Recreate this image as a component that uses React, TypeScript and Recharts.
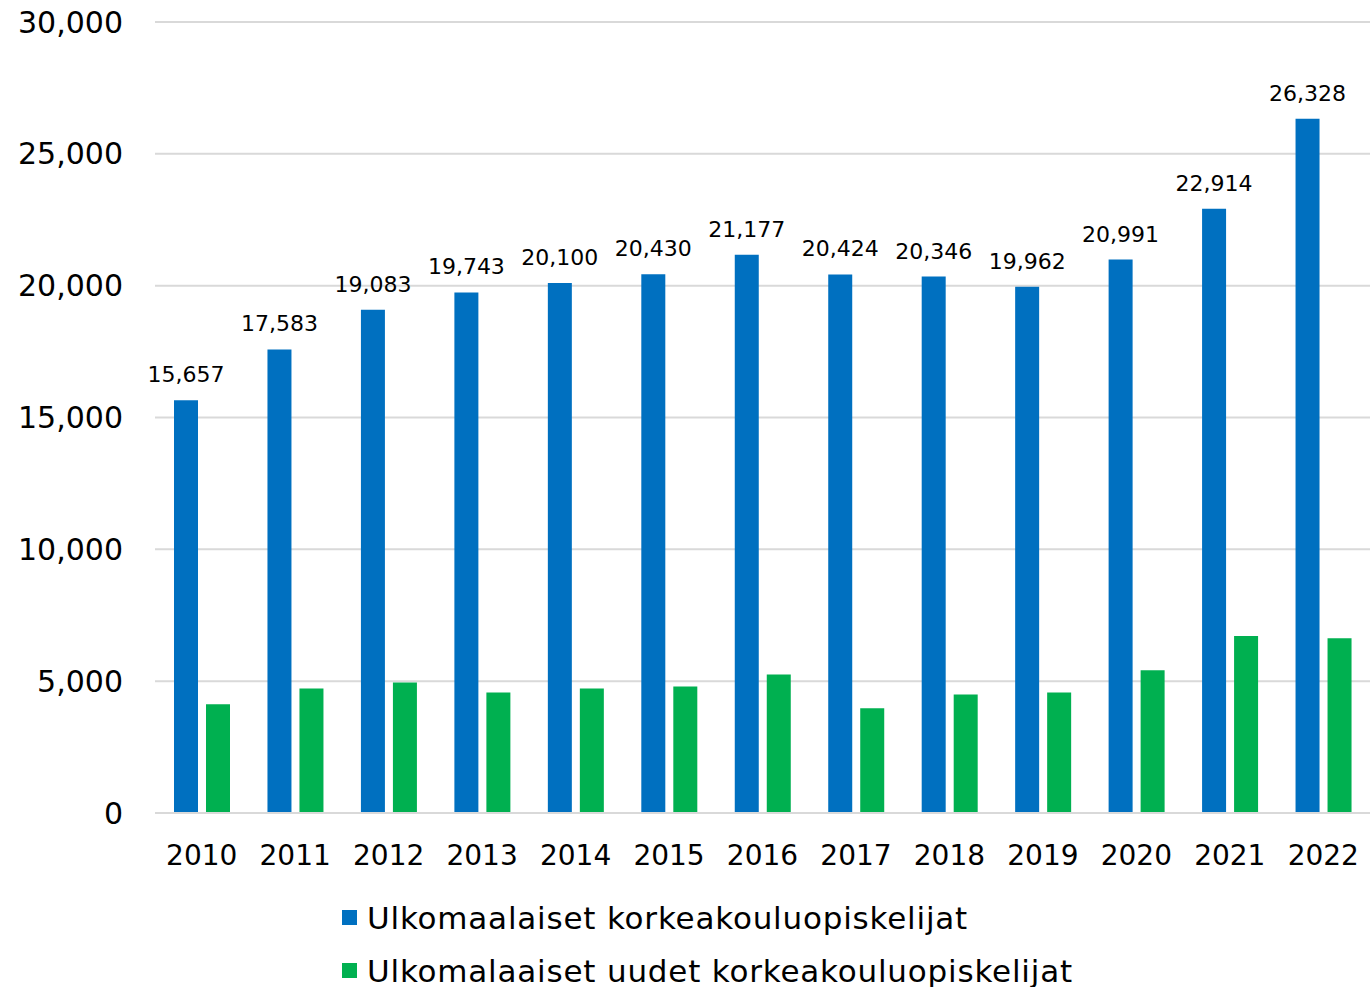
import React from 'react';
import { BarChart, Bar, XAxis, YAxis, CartesianGrid, LabelList, Legend } from 'recharts';

const years = ['2010', '2011', '2012', '2013', '2014', '2015', '2016', '2017', '2018', '2019', '2020', '2021', '2022'];
const allStudents = [15657, 17583, 19083, 19743, 20100, 20430, 21177, 20424, 20346, 19962, 20991, 22914, 26328];
const newStudents = [4120, 4720, 4950, 4570, 4720, 4800, 5250, 3970, 4490, 4570, 5410, 6710, 6630];
const yTicks = [0, 5000, 10000, 15000, 20000, 25000, 30000];

const seriesNames = {
  all: 'Ulkomaalaiset korkeakouluopiskelijat',
  fresh: 'Ulkomalaaiset uudet korkeakouluopiskelijat',
};

const data = years.map((year, i) => ({
  year,
  all: allStudents[i],
  fresh: newStudents[i],
}));

const FONT = '"DejaVu Sans", sans-serif';
const fmt = (v: number) => v.toLocaleString('en-US');

const LegendBox = () => (
  <div style={{ fontFamily: FONT, fontSize: 31, letterSpacing: 0.8, color: '#000', paddingLeft: 342, paddingTop: 4 }}>
    {[
      { name: seriesNames.all, color: '#0070c0' },
      { name: seriesNames.fresh, color: '#00b050' },
    ].map((item) => (
      <div key={item.name} style={{ display: 'flex', alignItems: 'center', height: 53 }}>
        <span style={{ display: 'inline-block', width: 15, height: 15, background: item.color, marginRight: 10 }} />
        <span>{item.name}</span>
      </div>
    ))}
  </div>
);

export default function App() {
  return (
    <div style={{ position: 'absolute', left: 0, top: 0, background: '#fff' }}>
      <BarChart
        width={1370}
        height={987}
        data={data}
        margin={{ top: 22, right: 0, left: 0, bottom: 0 }}
        barCategoryGap="20%"
        barGap={8}
      >
        <CartesianGrid vertical={false} stroke="#d9d9d9" strokeWidth={2} />
        <XAxis
          dataKey="year"
          height={74}
          tickLine={false}
          tickSize={0}
          tickMargin={32}
          axisLine={{ stroke: '#d9d9d9', strokeWidth: 2 }}
          tick={{ fontFamily: FONT, fontSize: 28, fill: '#000' }}
        />
        <YAxis
          width={155}
          domain={[0, 30000]}
          ticks={yTicks}
          tickFormatter={fmt}
          axisLine={false}
          tickLine={false}
          tickSize={0}
          tickMargin={32}
          tick={{ fontFamily: FONT, fontSize: 30, fill: '#000' }}
        />
        <Legend
          verticalAlign="bottom"
          content={<LegendBox />}
          wrapperStyle={{ left: 0, width: 1370, height: 100, bottom: 0 }}
        />
        <Bar dataKey="all" name={seriesNames.all} fill="#0070c0" barSize={24} isAnimationActive={false}>
          <LabelList
            dataKey="all"
            position="top"
            offset={18}
            formatter={(v: any) => fmt(Number(v))}
            style={{ fontFamily: FONT, fontSize: 22, fill: '#000' }}
          />
        </Bar>
        <Bar dataKey="fresh" name={seriesNames.fresh} fill="#00b050" barSize={24} isAnimationActive={false} />
      </BarChart>
    </div>
  );
}
